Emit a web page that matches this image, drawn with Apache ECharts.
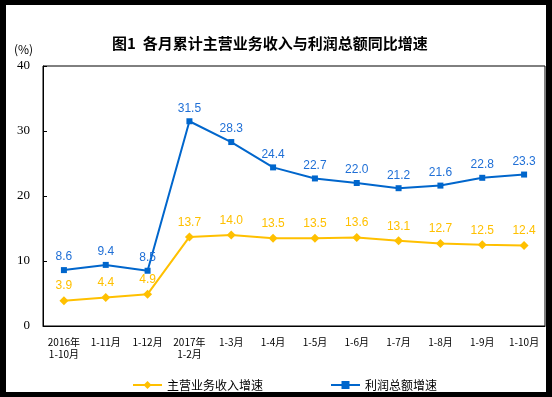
<!DOCTYPE html>
<html>
<head>
<meta charset="utf-8">
<script src="https://cdn.jsdelivr.net/npm/echarts@6/dist/echarts.min.js"></script>
<style>
    body { margin: 0; }
    #frame { position: relative; width: 552px; height: 397px; background: #000; }
    #container { position: absolute; left: 6px; top: 5px; width: 540px; height: 387px; background: #fff; }
</style>
</head>
<body>
<div id="frame"><div id="container"></div></div>
<script>
var months = ['2016年\n1-10月', '1-11月', '1-12月', '2017年\n1-2月', '1-3月', '1-4月',
    '1-5月', '1-6月', '1-7月', '1-8月', '1-9月', '1-10月'];
var revenueGrowth = [3.9, 4.4, 4.9, 13.7, 14.0, 13.5, 13.5, 13.6, 13.1, 12.7, 12.5, 12.4];
var profitGrowth = [8.6, 9.4, 8.5, 31.5, 28.3, 24.4, 22.7, 22.0, 21.2, 21.6, 22.8, 23.3];
var yTicks = [0, 10, 20, 30, 40];

var font = '"Noto Sans CJK SC", sans-serif';
var dom = document.getElementById("container");
var myChart = echarts.init(dom);
var option = {
    animation: false,
    title: {
        text: '图1  各月累计主营业务收入与利润总额同比增速',
        left: 101,
        top: 26,
        textStyle: { fontSize: 15, fontWeight: 'bold', color: '#000', fontFamily: font }
    },
    graphic: [{
        type: 'text',
        left: 8,
        top: 38,
        style: { text: '(%)', fontSize: 12, fill: '#000', fontFamily: font }
    }],
    legend: {
        left: 121,
        top: 369,
        itemGap: 67,
        itemWidth: 29,
        itemHeight: 10,
        textStyle: { fontSize: 12, color: '#000', fontFamily: font },
        data: ['主营业务收入增速', '利润总额增速']
    },
    grid: {
        left: 37,
        right: 1,
        top: 61,
        bottom: 66,
        show: true,
        borderColor: '#000',
        borderWidth: 1
    },
    xAxis: {
        type: 'category',
        data: months,
        boundaryGap: true,
        axisLine: { lineStyle: { color: '#000', width: 1 } },
        axisTick: { inside: true, length: 4, lineStyle: { color: '#000' } },
        axisLabel: {
            interval: 0, margin: 10, fontSize: 10, lineHeight: 12,
            color: '#000', fontFamily: font
        }
    },
    yAxis: {
        type: 'value',
        min: yTicks[0],
        max: yTicks[yTicks.length - 1],
        interval: 10,
        splitLine: { show: false },
        axisLine: { show: true, lineStyle: { color: '#000', width: 1 } },
        axisTick: { show: true, inside: true, length: 4, lineStyle: { color: '#000' } },
        axisLabel: { margin: 13, fontSize: 13, color: '#000', fontFamily: '"Liberation Serif", serif' }
    },
    series: [
        {
            name: '主营业务收入增速',
            type: 'line',
            data: revenueGrowth,
            symbol: 'diamond',
            symbolSize: 9,
            itemStyle: { color: '#FFC000' },
            lineStyle: { color: '#FFC000', width: 2 },
            label: {
                show: true, position: 'top', distance: 4,
                fontSize: 12, color: '#FFC000', fontFamily: '"Liberation Sans", sans-serif',
                formatter: function (p) { return p.value.toFixed(1); }
            }
        },
        {
            name: '利润总额增速',
            type: 'line',
            data: profitGrowth,
            symbol: 'rect',
            symbolSize: 6,
            itemStyle: { color: '#0066CC' },
            lineStyle: { color: '#0066CC', width: 2 },
            label: {
                show: true, position: 'top', distance: 4,
                fontSize: 12, color: '#1F6FD6', fontFamily: '"Liberation Sans", sans-serif',
                formatter: function (p) { return p.value.toFixed(1); }
            }
        }
    ]
};
myChart.setOption(option, true);
</script>
</body>
</html>
